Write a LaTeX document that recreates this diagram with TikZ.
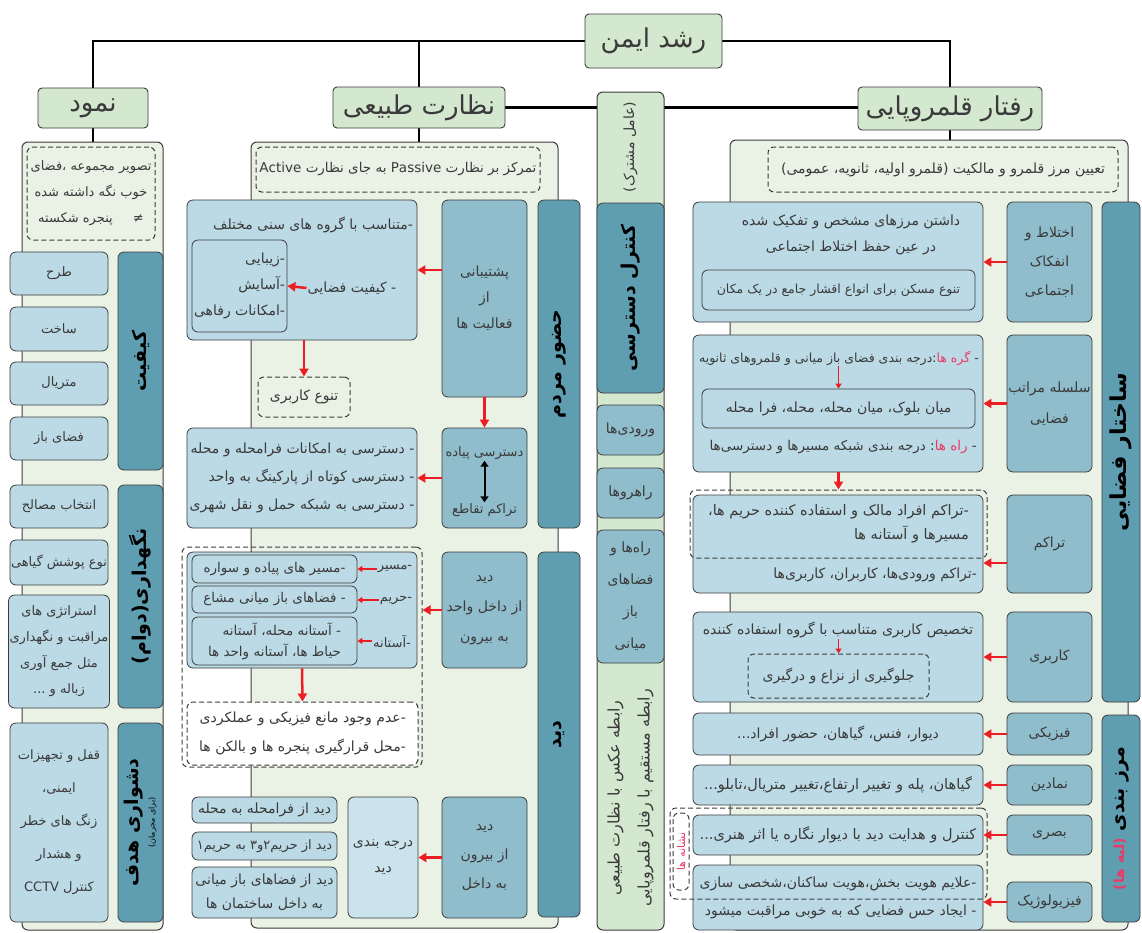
\documentclass[tikz,border=0pt]{standalone}
\usepackage{fontspec}
\usepackage{tikz}
\usetikzlibrary{positioning,arrows.meta,backgrounds}
\TeXXeTstate=1
\newfontfamily\farsi[Script=Arabic]{DejaVu Sans}
\newcommand{\rl}[1]{\beginR #1\endR}
\newcommand{\lr}[1]{\beginL #1\endL}
\newcommand{\fnorm}{\farsi\fontsize{14}{26}\selectfont}
\newcommand{\fleft}{\farsi\fontsize{13}{26}\selectfont}
\newcommand{\fhead}{\farsi\fontsize{26}{30}\selectfont}
\newcommand{\fbar}{\farsi\bfseries\fontsize{19}{22}\selectfont}
\newcommand{\fsmall}{\farsi\fontsize{8}{10}\selectfont}

\definecolor{linec}{HTML}{3C3C3C}
\definecolor{panelg}{HTML}{E9F2E5}
\definecolor{hdrg}{HTML}{D4E7CF}
\definecolor{lblue}{HTML}{BBDAE5}
\definecolor{llblue}{HTML}{CAE3EC}
\definecolor{mblue}{HTML}{8FBDCC}
\definecolor{dblue}{HTML}{5F9EB1}
\definecolor{arrred}{HTML}{EE1D23}
\definecolor{txtred}{HTML}{EA3A67}
\definecolor{txtc}{HTML}{3A3A3A}

\tikzset{
  hdr/.style={draw=linec, line width=0.9pt, fill=hdrg, rounded corners=4pt, font=\fhead, text=txtc},
  panel/.style={draw=linec, line width=1pt, fill=panelg, rounded corners=6pt},
  dbox/.style={draw=linec, line width=0.8pt, fill=lblue, rounded corners=6pt, font=\fnorm, text=txtc, align=center, inner sep=1pt},
  mbox/.style={dbox, fill=mblue},
  lbox/.style={dbox, font=\fleft},
  bar/.style={draw=linec, line width=0.8pt, fill=dblue, rounded corners=6pt, font=\fbar, text=black, inner sep=1pt},
  dashbox/.style={draw=linec, line width=1pt, dash pattern=on 5pt off 3pt, rounded corners=6pt, font=\fnorm, text=txtc, align=center, inner sep=1pt},
  txt/.style={font=\fnorm, text=txtc, inner sep=1pt},
  redarr/.style={draw=arrred, line width=2.5pt, -{Triangle[length=8pt,width=9pt]}},
  smallarr/.style={draw=arrred, line width=1.4pt, -{Triangle[length=5pt,width=6pt]}},
  dblarr/.style={draw=black, line width=2pt, {Triangle[length=6pt,width=8pt]}-{Triangle[length=6pt,width=8pt]}},
  link/.style={draw=black, line width=2.4pt}
}

\begin{document}
\begin{tikzpicture}[x=1pt,y=-1pt]
\useasboundingbox (0,0) rectangle (1142,932);

% headers
\node[hdr, minimum width=137pt, minimum height=54pt] (title) at (653.5,41) {\rl{رشد ایمن}};
\node[hdr, minimum width=110pt, minimum height=40pt] (namud) at (93,108) {\rl{نمود}};
\node[hdr, minimum width=172pt, minimum height=41pt] (nezarat) at (419,107.5) {\rl{نظارت طبیعی}};
\node[hdr, minimum width=184pt, minimum height=43pt] (raftar) at (950,108.5) {\rl{رفتار قلمروپایی}};

% panels
\node[panel, minimum width=141pt, minimum height=788pt] (lpanel) at (92.5,536) {};
\node[panel, minimum width=307pt, minimum height=786pt] (mpanel) at (404.5,535) {};
\node[panel, minimum width=398pt, minimum height=790pt] (rpanel) at (929,535) {};
\node[panel, fill=hdrg, minimum width=67pt, minimum height=838pt] (mcol) at (630.5,511) {};

\begin{scope}[on background layer]
  \fill[white] (0,0) rectangle (1142,932);
  \draw[link] (title.west) -| (namud.north);
  \draw[link] (title.east) -| (raftar.north);
  \draw[link] (title.west -| nezarat.north) -- (nezarat.north);
  \draw[link] (nezarat.east) -- (nezarat.east -| raftar.west);
  \draw[link] (namud.south) -- (namud.south |- lpanel.north);
  \draw[link] (nezarat.south) -- (nezarat.south |- mpanel.north);
  \draw[link] (raftar.south) -- (raftar.south |- rpanel.north);
\end{scope}

% ---- namud
\node[dashbox, font=\fleft, minimum width=128pt, minimum height=93pt] (tasvir) at (91,193.5)
  {\rl{تصویر مجموعه ،فضای}\\\rl{خوب نگه داشته شده}\\\rl{پنجره شکسته}\hspace{20pt}≠};
\node[bar, rotate=90, minimum width=218pt, minimum height=45pt] (kifiat) at (140.5,361) {\rl{کیفیت}};
\node[lbox, minimum width=98pt, minimum height=43pt] (tarh) at (59,273.5) {\rl{طرح}};
\node[lbox, minimum width=98pt, minimum height=44pt] (sakht) at (59,329) {\rl{ساخت}};
\node[lbox, minimum width=98pt, minimum height=43pt] (materyal) at (59,383.5) {\rl{متریال}};
\node[lbox, minimum width=98pt, minimum height=43pt] (fazabaz) at (59,438.5) {\rl{فضای باز}};
\node[bar, rotate=90, minimum width=223pt, minimum height=45pt] (negah) at (140.5,596.5) {\rl{نگهداری(دوام)}};
\node[lbox, minimum width=98pt, minimum height=43pt] (masaleh) at (59,506.5) {\rl{انتخاب مصالح}};
\node[lbox, minimum width=98pt, minimum height=45pt] (pushesh) at (59,562.5) {\rl{نوع پوشش گیاهی}};
\node[lbox, minimum width=98pt, minimum height=113pt] (estrat) at (59,651.5)
  {\rl{استراتژی های}\\\rl{مراقبت و نگهداری}\\\rl{مثل جمع آوری}\\\rl{زباله و ...}};
\node[bar, rotate=90, align=center, minimum width=199pt, minimum height=45pt] (doshvar) at (140.5,822.5)
  {\rl{دشواری هدف}\\[-6pt]{\fsmall\mdseries\rl{(برای مجرمان)}}};
\node[lbox, minimum width=98pt, minimum height=199pt, font=\farsi\fontsize{13}{33}\selectfont] (ghofl) at (59,822.5)
  {\rl{قفل و تجهیزات}\\\rl{ایمنی،}\\\rl{زنگ های خطر}\\\rl{و هشدار}\\\rl{کنترل \lr{CCTV}}};

% ---- nezarat tabiei
\node[dashbox, font=\farsi\fontsize{13.5}{26}\selectfont, minimum width=284pt, minimum height=45pt] (passive) at (398,169.5)
  {\rl{تمرکز بر نظارت \lr{Passive} به جای نظارت \lr{Active}}};
\node[bar, rotate=90, minimum width=328pt, minimum height=42pt] (hozur) at (559,364) {\rl{حضور مردم}};
\node[bar, rotate=90, minimum width=365pt, minimum height=42pt] (did) at (559,734.5) {\rl{دید}};

\node[mbox, minimum width=85pt, minimum height=197pt] (poshtiban) at (484.5,298.5)
  {\rl{پشتیبانی}\\\rl{از}\\\rl{فعالیت ها}};
\node[dbox, minimum width=230pt, minimum height=140pt] (motanaseb) at (302,270) {};
\node[txt, anchor=east] (sennt) at (414,225) {\rl{-متناسب با گروه های سنی مختلف}};
\node[dbox, align=right, minimum width=95pt, minimum height=92pt] (zibayi) at (239.5,286)
  {\rl{-زیبایی}\\\rl{-آسایش}\\\rl{-امکانات رفاهی}};
\node[txt] (keyfiat) at (352,288) {\rl{- کیفیت فضایی}};
\node[dashbox, minimum width=92pt, minimum height=40pt] (tanavo) at (304,397) {\rl{تنوع کاربری}};
\draw[redarr] (motanaseb.east -| poshtiban.west) -- (motanaseb.east);
\draw[redarr] (keyfiat.west) -- (zibayi.east);
\draw[redarr] (motanaseb.south -| tanavo.north) -- (tanavo.north);

\node[mbox, minimum width=85pt, minimum height=100pt] (pedestrian) at (484.5,478) {};
\node[txt, font=\farsi\fontsize{13}{26}\selectfont] (dastpiade) at (484.5,453) {\rl{دسترسی پیاده}};
\node[txt, font=\farsi\fontsize{13}{26}\selectfont] (taghato) at (484.5,510) {\rl{تراکم تقاطع}};
\draw[dblarr] (dastpiade.south) -- (taghato.north);
\node[dbox, align=right, minimum width=230pt, minimum height=100pt, font=\farsi\fontsize{14}{28}\selectfont] (dastresi) at (302,478)
  {\rl{- دسترسی به امکانات فرامحله و محله}\\\rl{- دسترسی کوتاه از پارکینگ به واحد}\\\rl{- دسترسی به شبکه حمل و نقل شهری}};
\draw[redarr] (poshtiban.south) -- (pedestrian.north);
\draw[redarr] (pedestrian.west) -- (dastresi.east);

\node[mbox, minimum width=85pt, minimum height=116pt, font=\farsi\fontsize{14}{30}\selectfont] (didin) at (484.5,610)
  {\rl{دید}\\\rl{از داخل واحد}\\\rl{به بیرون}};
\node[dbox, minimum width=230pt, minimum height=116pt] (harim) at (302,610) {};
\node[dbox, minimum width=165pt, minimum height=28pt, font=\farsi\fontsize{13.5}{26}\selectfont] (masir) at (274.5,569) {\rl{-مسیر های پیاده و سواره}};
\node[dbox, minimum width=165pt, minimum height=27pt, font=\farsi\fontsize{13.5}{26}\selectfont] (mosha) at (274.5,599.5) {\rl{- فضاهای باز میانی مشاع}};
\node[dbox, align=right, minimum width=165pt, minimum height=48pt, font=\farsi\fontsize{13.5}{21}\selectfont] (astane) at (274.5,641)
  {\rl{- آستانه محله، آستانه}\\\rl{حیاط ها، آستانه واحد ها}};
\node[txt, font=\farsi\fontsize{13}{26}\selectfont] (lmasir) at (395,569) {\rl{-مسیر}};
\node[txt, font=\farsi\fontsize{13}{26}\selectfont] (lharim) at (396,600) {\rl{-حریم}};
\node[txt, font=\farsi\fontsize{13}{26}\selectfont] (lastane) at (392,641) {\rl{-آستانه}};
\draw[smallarr] (lmasir.west) -- (lmasir.west -| masir.east);
\draw[smallarr] (lharim.west) -- (lharim.west -| mosha.east);
\draw[smallarr] (lastane.west) -- (lastane.west -| astane.east);
\node[dashbox, fill=white, align=right, minimum width=231pt, minimum height=63pt, font=\farsi\fontsize{14}{29}\selectfont] (mane) at (302.5,733.5)
  {\rl{-عدم وجود مانع فیزیکی و عملکردی}\\\rl{-محل قرارگیری پنجره ها و بالکن ها}};
\node[dashbox, minimum width=240pt, minimum height=220pt] (didbox) at (302,657) {};
\draw[redarr] (didin.west) -- (didin.west -| didbox.east);
\draw[redarr] (harim.south) -- (mane.north);

\node[mbox, minimum width=85pt, minimum height=121pt, font=\farsi\fontsize{14}{29}\selectfont] (didout) at (484.5,857.5)
  {\rl{دید}\\\rl{از بیرون}\\\rl{به داخل}};
\node[dbox, fill=llblue, minimum width=70pt, minimum height=121pt] (daraje) at (383,857.5)
  {\rl{درجه بندی}\\\rl{دید}};
\node[dbox, minimum width=145pt, minimum height=26pt] (faramahale) at (264.5,810) {\rl{دید از فرامحله به محله}};
\node[dbox, minimum width=145pt, minimum height=28pt, font=\farsi\fontsize{13}{26}\selectfont] (harim23) at (264.5,846) {\rl{دید از حریم۲و۳ به حریم۱}};
\node[dbox, minimum width=145pt, minimum height=51pt, font=\farsi\fontsize{14}{24}\selectfont] (sakhteman) at (264.5,892.5)
  {\rl{دید از فضاهای باز میانی}\\\rl{به داخل ساختمان ها}};
\draw[redarr] (didout.west) -- (daraje.east);

% ---- amel moshtarak
\node[txt, rotate=90] (amel) at (630.5,147) {\rl{(عامل مشترک)}};
\node[bar, rotate=90, minimum width=190pt, minimum height=67pt] (kontrol) at (630.5,298) {\rl{کنترل دسترسی}};
\node[mbox, minimum width=67pt, minimum height=50pt] (vorudi) at (630.5,430) {\rl{ورودی‌ها}};
\node[mbox, minimum width=67pt, minimum height=50pt] (rahro) at (630.5,493) {\rl{راهروها}};
\node[mbox, minimum width=67pt, minimum height=133pt, font=\farsi\fontsize{14}{32}\selectfont] (rahha) at (630.5,596.5)
  {\rl{راه‌ها و}\\\rl{فضاهای}\\\rl{باز}\\\rl{میانی}};
\node[txt, rotate=90, align=center, font=\farsi\fontsize{16}{30}\selectfont] (rabete) at (630.5,798)
  {\rl{رابطه عکس با نظارت طبیعی}\\\rl{رابطه مستقیم با رفتار قلمروپایی}};

% ---- raftar ghalamropayi
\node[dashbox, minimum width=350pt, minimum height=45pt] (marzdash) at (943,169.5)
  {\rl{تعیین مرز قلمرو و مالکیت (قلمرو اولیه، ثانویه، عمومی)}};
\node[bar, rotate=90, minimum width=500pt, minimum height=38pt, font=\farsi\bfseries\fontsize{22}{24}\selectfont] (sakhtar) at (1121,452) {\rl{ساختار فضایی}};
\node[bar, rotate=90, minimum width=207pt, minimum height=38pt] (marz) at (1121,818.5)
  {{\color{txtred}\fnorm\rl{(لبه ها)}}\ \rl{مرز بندی}};

\node[mbox, minimum width=85pt, minimum height=120pt, font=\farsi\fontsize{14}{29}\selectfont] (ekhtelat) at (1049.5,262)
  {\rl{اختلاط و}\\\rl{انفکاک}\\\rl{اجتماعی}};
\node[dbox, minimum width=290pt, minimum height=120pt] (mosakhas) at (838,262) {};
\node[txt, align=center] (mosakhast) at (851,235) {\rl{داشتن مرزهای مشخص و تفکیک شده}\\\rl{در عین حفظ اختلاط اجتماعی}};
\node[dbox, minimum width=273pt, minimum height=40pt, font=\farsi\fontsize{12.5}{26}\selectfont] (maskan) at (838.5,290) {\rl{تنوع مسکن برای انواع اقشار جامع در یک مکان}};
\draw[redarr] (ekhtelat.west) -- (mosakhas.east);

\node[mbox, minimum width=85pt, minimum height=137pt, font=\farsi\fontsize{14}{31}\selectfont] (selsele) at (1049.5,403.5)
  {\rl{سلسله مراتب}\\\rl{فضایی}};
\node[dbox, minimum width=290pt, minimum height=137pt] (sathbandi) at (838,403.5) {};
\node[txt, anchor=east, font=\farsi\fontsize{12.5}{26}\selectfont] (gere) at (980,358)
  {\rl{درجه بندی فضای باز میانی و قلمروهای ثانویه}:{\color{txtred}\rl{گره ها}}\ -};
\node[dbox, minimum width=273pt, minimum height=39pt] (miyan) at (838.5,408.5) {\rl{میان بلوک، میان محله، محله، فرا محله}};
\node[txt, anchor=east, font=\farsi\fontsize{13.5}{26}\selectfont] (rah) at (978,447)
  {\rl{درجه بندی شبکه مسیرها و دسترسی‌ها}\ :{\color{txtred}\rl{راه ها}}\ -};
\draw[smallarr] (gere.south -| miyan.north) -- (miyan.north);
\draw[redarr] (selsele.west) -- (sathbandi.east);

\node[mbox, minimum width=85pt, minimum height=98pt] (tarakom) at (1049.5,544) {\rl{تراکم}};
\node[dbox, minimum width=290pt, minimum height=98pt] (tarakombox) at (838,544) {};
\node[dashbox, align=right, minimum width=297pt, minimum height=68pt, font=\farsi\fontsize{14.5}{24}\selectfont] (afrad) at (838.5,524)
  {\rl{-تراکم افراد مالک و استفاده کننده حریم ها،}\\\rl{مسیرها و آستانه ها}};
\node[txt, anchor=east] (vorudiha) at (978,575) {\rl{-تراکم ورودی‌ها، کاربران، کاربری‌ها}};
\draw[redarr] ([yshift=-19pt]tarakom.west) -- ([yshift=-19pt]tarakom.west -| tarakombox.east);
\draw[redarr] (sathbandi.south -| afrad.north) -- (afrad.north);

\node[mbox, minimum width=85pt, minimum height=90pt] (karbari) at (1049.5,657) {\rl{کاربری}};
\node[dbox, minimum width=290pt, minimum height=90pt] (takhsisbox) at (838,657) {};
\node[txt] (takhsis) at (838,630) {\rl{تخصیص کاربری متناسب با گروه استفاده کننده}};
\node[dashbox, minimum width=181pt, minimum height=44pt] (jologiri) at (838.5,676) {\rl{جلوگیری از نزاع و درگیری}};
\draw[smallarr] (takhsis.south -| jologiri.north) -- (jologiri.north);
\draw[redarr] (karbari.west) -- (takhsisbox.east);

\node[mbox, minimum width=85pt, minimum height=42pt] (fiziki) at (1049.5,734) {\rl{فیزیکی}};
\node[dbox, minimum width=290pt, minimum height=42pt] (divar) at (838,734) {\rl{دیوار، فنس، گیاهان، حضور افراد...}};
\node[mbox, minimum width=85pt, minimum height=40pt] (namadin) at (1049.5,785) {\rl{نمادین}};
\node[dbox, minimum width=290pt, minimum height=40pt, font=\farsi\fontsize{14.5}{26}\selectfont] (pelle) at (838,785) {\rl{گیاهان، پله و تغییر ارتفاع،تغییر متریال،تابلو...}};
\node[mbox, minimum width=85pt, minimum height=40pt] (basari) at (1049.5,835) {\rl{بصری}};
\node[dbox, minimum width=290pt, minimum height=40pt, font=\farsi\fontsize{14.5}{26}\selectfont] (negare) at (838,835) {\rl{کنترل و هدایت دید با دیوار نگاره یا اثر هنری...}};
\node[mbox, minimum width=85pt, minimum height=40pt] (fiziolozhik) at (1049.5,902) {\rl{فیزیولوژیک}};
\node[dbox, align=right, minimum width=290pt, minimum height=65pt, font=\farsi\fontsize{14}{28}\selectfont] (hoviat) at (838,897.5)
  {\rl{-علایم هویت بخش،هویت ساکنان،شخصی سازی}\\\rl{- ایجاد حس فضایی که به خوبی مراقبت میشود}};
\node[dashbox, minimum width=317pt, minimum height=91pt] (neshanebox) at (828.5,853.5) {};
\node[dashbox, rotate=90, minimum width=77pt, minimum height=16pt, inner sep=0pt, text=txtred, font=\farsi\fontsize{11}{12}\selectfont] (neshane) at (681,851.5) {\rl{نشانه ها}};
\draw[redarr] (fiziki.west) -- (divar.east);
\draw[redarr] (namadin.west) -- (pelle.east);
\draw[redarr] (basari.west) -- (negare.east);
\draw[redarr] (fiziolozhik.west) -- (fiziolozhik.west -| hoviat.east);
\end{tikzpicture}
\end{document}
